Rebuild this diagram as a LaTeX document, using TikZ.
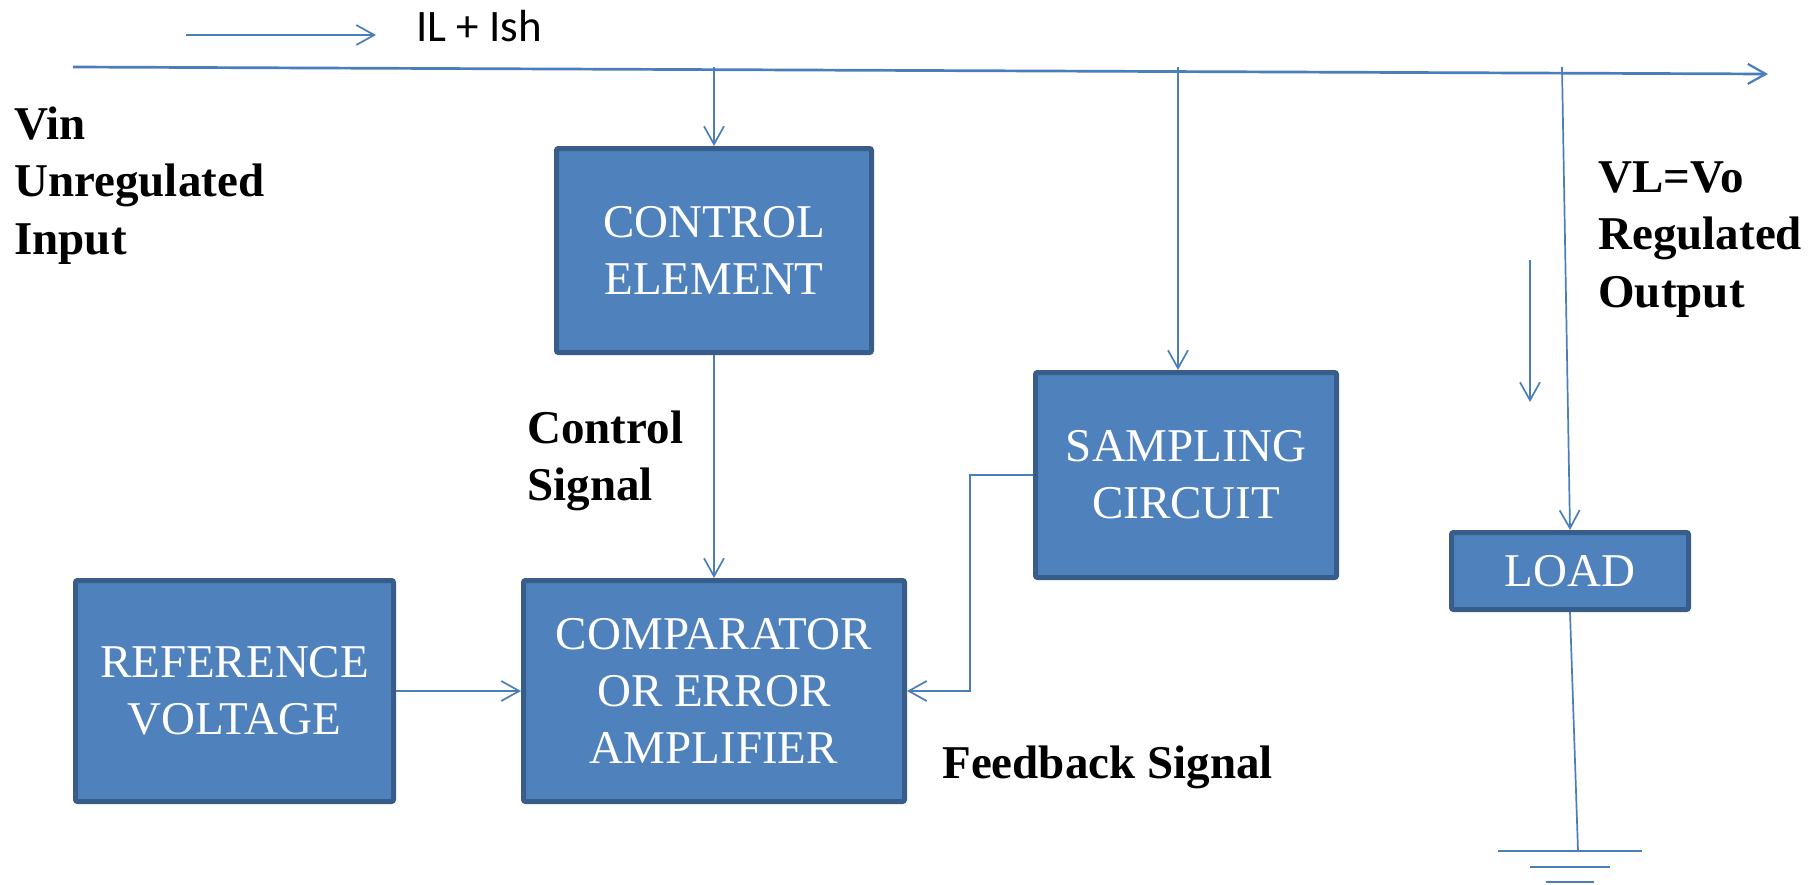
\documentclass[tikz,border=0pt]{standalone}
\usepackage{fontspec}
\setmainfont{Liberation Serif}
\newfontfamily\calib{Carlito}
\usetikzlibrary{arrows.meta}
\definecolor{boxfill}{HTML}{4F81BD}
\definecolor{boxedge}{HTML}{385D8A}
\definecolor{wire}{HTML}{4A7EBB}
\begin{document}
\begin{tikzpicture}[x=0.5pt,y=-0.5pt,
  blk/.style={draw=boxedge, fill=boxfill, line width=2.5pt, rounded corners=1pt,
    text=white, align=center, inner sep=0pt,
    font=\fontsize{23.5pt}{28.5pt}\selectfont},
  lbl/.style={align=left, inner sep=0pt, font=\fontsize{23.5pt}{28.75pt}\selectfont\bfseries},
  wirel/.style={draw=wire, line width=0.85pt},
  arr/.style={wirel, -{Straight Barb[length=9pt,width=10pt,line width=0.85pt]}}]
\useasboundingbox (0,0) rectangle (1820,884);

% boxes
\node[blk, minimum width=157.5pt, minimum height=102pt] (ctrl) at (714,250.5) {CONTROL\\ELEMENT};
\node[blk, minimum width=190.5pt, minimum height=110.5pt] (comp) at (714,691) {COMPARATOR\\OR ERROR\\AMPLIFIER};
\node[blk, minimum width=159pt, minimum height=110.5pt] (ref) at (234.5,691) {REFERENCE\\VOLTAGE};
\node[blk, minimum width=150.5pt, minimum height=102.5pt] (samp) at (1186,475) {SAMPLING\\CIRCUIT};
\node[blk, minimum width=118.5pt, minimum height=38.5pt] (load) at (1570,571) {LOAD};

% main line
\coordinate (vin) at (73,67);
\coordinate (vout) at (1768,74);
\draw[wire, line width=1.35pt, -{Straight Barb[length=9pt,width=10pt,line width=1.1pt]}] (vin) -- (vout);

% current arrow and label
\coordinate (ia) at (186,35);
\coordinate (ib) at (376,35);
\draw[arr] (ia) -- (ib);
\node[anchor=base west, inner sep=0pt, font=\calib\fontsize{22.5pt}{27pt}\selectfont] (ilabel) at (416,41) {IL + Ish};

% taps
\coordinate (t1) at (714,67);
\coordinate (t2) at (1178,67);
\coordinate (t3) at (1562,67);
\draw[arr] (t1) -- (ctrl.north);
\draw[arr] (t2) -- (samp.north -| t2);
\draw[arr] (t3) -- (load.north);

% connections
\draw[arr] (ctrl.south) -- (comp.north);
\draw[arr] (ref.east) -- (comp.west);
\coordinate (fb) at (970,475);
\draw[arr] (samp.west) -- (fb) |- (comp.east);

% load to ground
\coordinate (g0) at (1578,851);
\draw[wirel] (load.south) -- (g0);
\coordinate (g1a) at (1498,851); \coordinate (g1b) at (1642,851);
\coordinate (g2a) at (1530,867); \coordinate (g2b) at (1610,867);
\coordinate (g3a) at (1546,882); \coordinate (g3b) at (1594,882);
\draw[wirel] (g1a) -- (g1b);
\draw[wirel] (g2a) -- (g2b);
\draw[wirel] (g3a) -- (g3b);

% small down arrow
\coordinate (da) at (1530,260);
\coordinate (db) at (1530,402);
\draw[arr] (da) -- (db);

% labels
\node[lbl, anchor=north west] (vinl) at (14,106) {Vin\\Unregulated\\Input};
\node[lbl, anchor=north west] (voutl) at (1598,161) {VL=Vo\\Regulated\\Output};
\node[lbl, anchor=north west] (csl) at (527,410) {Control\\Signal};
\node[lbl, anchor=base west] (fbl) at (942,778) {Feedback Signal};
\end{tikzpicture}
\end{document}
